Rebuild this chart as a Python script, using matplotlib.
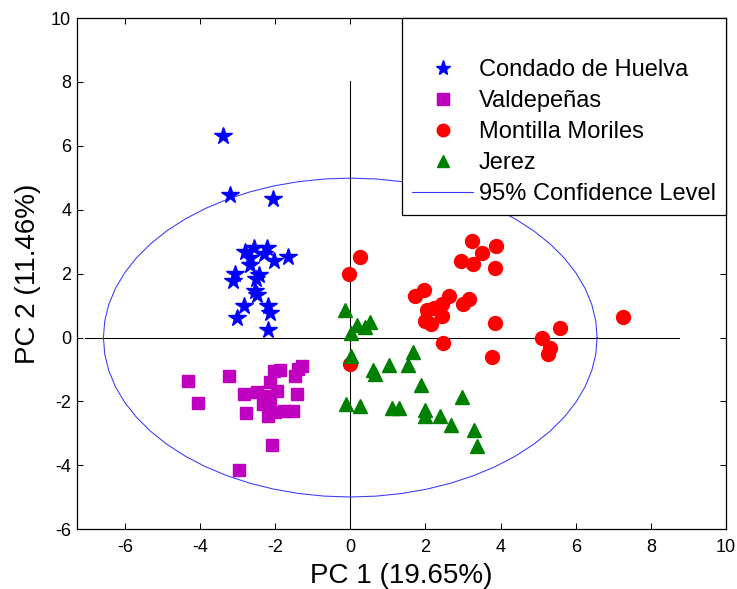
import numpy as np
import matplotlib
matplotlib.use('Agg')
from matplotlib import pyplot as plt
from matplotlib.lines import Line2D

plt.rcParams['font.family'] = ['Liberation Sans', 'DejaVu Sans']
plt.rcParams['axes.unicode_minus'] = False

# Condado de Huelva
ch_x = [-3.39, -3.19, -2.06, -2.80, -2.55, -2.22, -2.29, -2.03, -1.67, -2.67, -2.67,
        -3.07, -3.13, -2.44, -2.51, -2.53, -2.47, -2.83, -3.02, -2.19, -2.13, -2.19]
ch_y = [6.31, 4.46, 4.35, 2.69, 2.80, 2.80, 2.61, 2.40, 2.51, 2.49, 2.26,
        1.99, 1.78, 1.97, 1.84, 1.45, 1.34, 0.98, 0.62, 0.98, 0.77, 0.25]

# Valdepeñas
va_x = [-4.33, -3.22, -4.04, -2.82, -2.49, -2.77, -2.09, -2.97, -2.02, -1.87, -1.47, -1.38,
        -1.29, -2.13, -1.95, -2.22, -2.33, -2.13, -2.18, -2.00, -1.76, -1.53, -1.42]
va_y = [-1.36, -1.20, -2.05, -1.77, -1.69, -2.37, -3.36, -4.14, -1.04, -1.02, -1.20, -0.99,
        -0.89, -1.38, -1.67, -1.82, -2.08, -1.98, -2.45, -2.34, -2.29, -2.29, -1.77]

# Montilla Moriles
mm_x = [7.26, 3.23, 3.89, 3.51, 2.94, 3.27, 3.86, 0.27, -0.04, 1.96, 1.71, 2.62, 3.17, 2.99,
        2.43, 2.22, 2.05, 2.43, 2.00, 2.16, 3.86, 5.58, 5.11, 2.47, 5.31, 5.26, 3.78, 0.00]
mm_y = [0.64, 3.01, 2.88, 2.64, 2.41, 2.31, 2.17, 2.51, 1.99, 1.48, 1.29, 1.29, 1.21, 1.06,
        1.05, 0.91, 0.85, 0.67, 0.51, 0.43, 0.46, 0.30, -0.01, -0.16, -0.32, -0.52, -0.61, -0.84]

# Jerez
je_x = [-0.13, 0.18, 0.52, 0.40, 0.03, 0.02, 1.66, 0.60, 1.02, 0.67, 1.54, 1.87,
        2.98, -0.11, 0.27, 1.11, 1.29, 1.98, 1.98, 2.38, 2.69, 3.29, 3.38]
je_y = [0.86, 0.38, 0.48, 0.34, 0.13, -0.58, -0.44, -1.01, -0.86, -1.15, -0.86, -1.48,
        -1.85, -2.08, -2.13, -2.21, -2.21, -2.26, -2.45, -2.47, -2.74, -2.88, -3.38]

# 95% confidence ellipse
ell_cx, ell_cy = 0.0, 0.0
ell_a, ell_b = 6.57, 4.99

fig = plt.figure(figsize=(7.37, 5.89), dpi=100)
ax = fig.add_axes([0.1041, 0.1014, 0.881, 0.868])

# axis cross lines
ax.plot([-7.07, 8.75], [0, 0], color='black', lw=0.75, zorder=1)
ax.plot([0, 0], [-6, 8.04], color='black', lw=0.75, zorder=1)

t = np.linspace(0, 2 * np.pi, 61)
ax.plot(ell_cx + ell_a * np.cos(t), ell_cy + ell_b * np.sin(t), color='#3838ff', lw=0.75, zorder=2)

ax.plot(ch_x, ch_y, '*', color='#0000ff', ms=13, mec='#0000ff', ls='none', zorder=3)
ax.plot(va_x, va_y, 's', color='#bf00bf', ms=9, mec='#bf00bf', ls='none', zorder=3)
ax.plot(mm_x, mm_y, 'o', color='#ff0000', ms=10, mec='#ff0000', ls='none', zorder=3)
ax.plot(je_x, je_y, '^', color='#008000', ms=10.5, mec='#008000', ls='none', zorder=4)

ax.set_xlim(-7.28, 10)
ax.set_ylim(-6, 10)
ax.set_xticks(np.arange(-6, 11, 2))
ax.set_yticks(np.arange(-6, 11, 2))
ax.tick_params(direction='in', length=4, width=0.75, top=True, right=True, labelsize=13)
ax.tick_params(axis='x', pad=7)
ax.tick_params(axis='y', pad=4)
for s in ax.spines.values():
    s.set_linewidth(0.9)

ax.set_xlabel('PC 1 (19.65%)', fontsize=20, labelpad=5)
ax.set_ylabel('PC 2 (11.46%)', fontsize=20, labelpad=7)

handles = [
    Line2D([], [], ls='none', label=' '),
    Line2D([], [], marker='*', color='#0000ff', ls='none', ms=11, label='Condado de Huelva'),
    Line2D([], [], marker='s', color='#bf00bf', ls='none', ms=8, label='Valdepeñas'),
    Line2D([], [], marker='o', color='#ff0000', ls='none', ms=9, label='Montilla Moriles'),
    Line2D([], [], marker='^', color='#008000', ls='none', ms=9, label='Jerez'),
    Line2D([], [], color='#3838ff', lw=0.8, label='95% Confidence Level'),
]
leg = ax.legend(handles=handles, loc='upper right', bbox_to_anchor=(1, 1), borderaxespad=0,
                fontsize=17, frameon=True, fancybox=False, framealpha=1, edgecolor='black',
                handlelength=2.6, handletextpad=0.25, labelspacing=0.38, borderpad=0.42)
leg.get_frame().set_linewidth(0.9)

plt.savefig('out.png', dpi=100)
